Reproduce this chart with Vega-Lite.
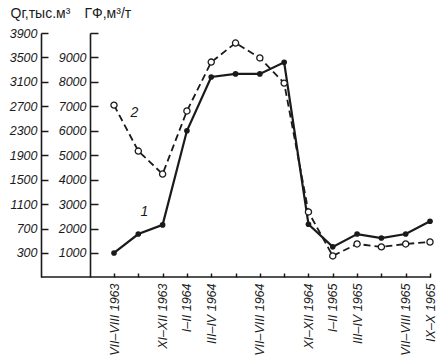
{
  "$schema": "https://vega.github.io/schema/vega-lite/v6.json",
  "width": 390,
  "height": 244,
  "autosize": {"type": "none"},
  "padding": {"left": 41, "top": 33, "right": 15, "bottom": 82},
  "background": "white",
  "config": {
    "view": {"stroke": null},
    "axis": {
      "grid": false,
      "labelFont": "Liberation Sans",
      "labelFontStyle": "italic",
      "labelFontSize": 12.5,
      "labelColor": "#1a1a1a",
      "domainColor": "#1a1a1a",
      "domainWidth": 1.6,
      "tickColor": "#1a1a1a",
      "tickWidth": 1.5,
      "titleFont": "Liberation Sans",
      "titleFontWeight": "normal",
      "titleFontSize": 14,
      "titleColor": "#1a1a1a"
    }
  },
  "datasets": {
    "main": [
      {"period": "VII–VIII 1963", "q": 300, "g": 7050},
      {"period": "IX–X 1963", "q": 610, "g": 5170},
      {"period": "XI–XII 1963", "q": 760, "g": 4230},
      {"period": "I–II 1964", "q": 2300, "g": 6810},
      {"period": "III–IV 1964", "q": 3180, "g": 8810},
      {"period": "V–VI 1964", "q": 3230, "g": 9590},
      {"period": "VII–VIII 1964", "q": 3230, "g": 8980},
      {"period": "IX–X 1964", "q": 3420, "g": 7950},
      {"period": "XI–XII 1964", "q": 770, "g": 2680},
      {"period": "I–II 1965", "q": 400, "g": 880},
      {"period": "III–IV 1965", "q": 610, "g": 1370},
      {"period": "V–VI 1965", "q": 545, "g": 1250},
      {"period": "VII–VIII 1965", "q": 610, "g": 1370},
      {"period": "IX–X 1965", "q": 820, "g": 1450}
    ]
  },
  "data": {"name": "main"},
  "layer": [
    {
      "encoding": {
        "y": {
          "field": "q",
          "type": "quantitative",
          "scale": {"domain": [-93, 3900], "nice": false, "zero": false},
          "axis": {
            "orient": "left",
            "values": [300, 700, 1100, 1500, 1900, 2300, 2700, 3100, 3500, 3900],
            "format": "d",
            "tickSize": -7,
            "labelPadding": 11,
            "title": "Qг,тыс.м³",
            "titleAngle": 0,
            "titleAlign": "left",
            "titleBaseline": "alphabetic",
            "titleX": -31,
            "titleY": -16
          }
        }
      },
      "layer": [
        {
          "data": {"values": [{"base": -93}]},
          "mark": {"type": "rule", "color": "#1a1a1a", "strokeWidth": 1.6},
          "encoding": {"y": {"field": "base", "type": "quantitative", "title": "Qг,тыс.м³"}}
        },
        {
          "mark": {"type": "line", "color": "#1a1a1a", "strokeWidth": 2.2},
          "encoding": {
            "x": {
              "field": "period",
              "type": "ordinal",
              "sort": null,
              "scale": {"type": "point", "range": [73, 389], "padding": 0},
              "axis": {
                "title": null,
                "domain": false,
                "labelAngle": -90,
                "tickSize": -4,
                "labelPadding": 10,
                "labelExpr": "indexof(['IX–X 1963','V–VI 1964','IX–X 1964','V–VI 1965'], datum.value) >= 0 ? '' : datum.label"
              }
            }
          }
        },
        {
          "mark": {"type": "point", "filled": true, "color": "#1a1a1a", "size": 32, "opacity": 1},
          "encoding": {"x": {"field": "period", "type": "ordinal", "sort": null}}
        },
        {
          "data": {"values": [{"label": "1", "period": "IX–X 1963", "q": 971}]},
          "mark": {"type": "text", "dx": 6, "font": "Liberation Sans", "fontStyle": "italic", "fontSize": 14, "color": "#1a1a1a"},
          "encoding": {
            "x": {"field": "period", "type": "ordinal", "sort": null},
            "text": {"field": "label"}
          }
        }
      ]
    },
    {
      "encoding": {
        "y": {
          "field": "g",
          "type": "quantitative",
          "scale": {"domain": [18, 10000], "nice": false, "zero": false},
          "axis": {
            "orient": "left",
            "offset": -49,
            "values": [1000, 2000, 3000, 4000, 5000, 6000, 7000, 8000, 9000, 10000],
            "format": "d",
            "labelExpr": "datum.value == 10000 ? '' : datum.label",
            "tickSize": -8,
            "labelPadding": 12,
            "title": "ГФ,м³/т",
            "titleAngle": 0,
            "titleAlign": "left",
            "titleBaseline": "alphabetic",
            "titleX": -6,
            "titleY": -16
          }
        }
      },
      "layer": [
        {
          "mark": {"type": "line", "color": "#1a1a1a", "strokeWidth": 1.8, "strokeDash": [7, 4]},
          "encoding": {"x": {"field": "period", "type": "ordinal", "sort": null}}
        },
        {
          "mark": {"type": "point", "filled": true, "fill": "white", "stroke": "#1a1a1a", "strokeWidth": 1.3, "size": 38, "opacity": 1},
          "encoding": {"x": {"field": "period", "type": "ordinal", "sort": null}}
        },
        {
          "data": {"values": [{"label": "2", "period": "IX–X 1963", "g": 6727}]},
          "mark": {"type": "text", "dx": -4, "font": "Liberation Sans", "fontStyle": "italic", "fontSize": 14, "color": "#1a1a1a"},
          "encoding": {
            "x": {"field": "period", "type": "ordinal", "sort": null},
            "text": {"field": "label"}
          }
        }
      ]
    }
  ],
  "resolve": {"scale": {"y": "independent"}}
}
